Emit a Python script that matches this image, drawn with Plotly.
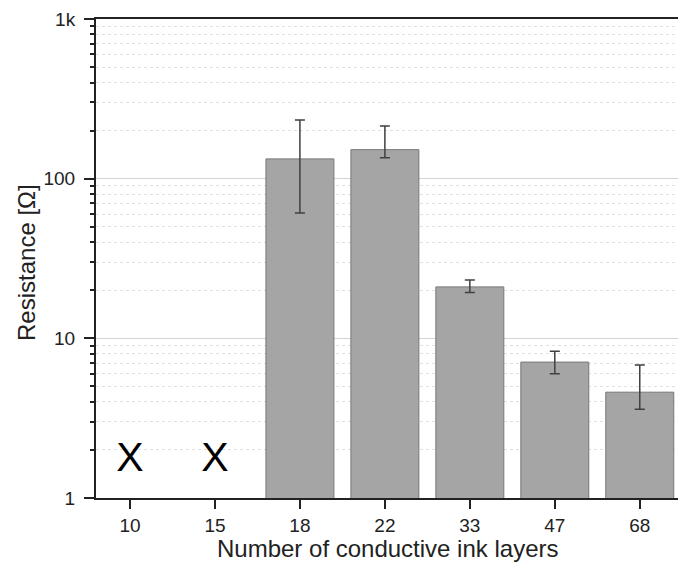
import plotly.graph_objects as go

layers = ["10", "15", "18", "22", "33", "47", "68"]
bar_layers = ["18", "22", "33", "47", "68"]
resistance = [133, 152, 21.0, 7.1, 4.6]
err_plus = [100, 62, 2.2, 1.2, 2.2]
err_minus = [72, 17, 1.6, 1.1, 1.0]
missing_layers = ["10", "15"]
missing_y = [1.72, 1.72]
missing_text = ["X", "X"]
ytick_vals = [1, 10, 100, 1000]
ytick_text = ["1", "10", "100", "1k"]
x_title = "Number of conductive ink layers"
y_title = "Resistance [Ω]"

minor_vals = [m * 10 ** d for d in range(3) for m in range(2, 10)]
FONT = "Liberation Sans, Arial, sans-serif"

fig = go.Figure()
fig.add_trace(go.Bar(
    x=bar_layers, y=resistance, width=0.8,
    marker=dict(color="#a5a5a5", line=dict(color="#777777", width=1)),
    error_y=dict(type="data", symmetric=False, array=err_plus, arrayminus=err_minus,
                 color="#404040", thickness=1.5, width=5),
    showlegend=False,
))
fig.add_trace(go.Scatter(
    x=missing_layers, y=missing_y, mode="text", text=missing_text,
    textfont=dict(size=41, color="black", family=FONT),
    showlegend=False, hoverinfo="skip",
))

fig.update_layout(
    width=678, height=574,
    margin=dict(l=96, r=0, t=19, b=76),
    plot_bgcolor="white", paper_bgcolor="white",
    font=dict(family=FONT, size=19, color="#222"),
    annotations=[
        dict(text=x_title, xref="paper", yref="paper", x=0.5009, y=-0.1044,
             xanchor="center", yanchor="middle", showarrow=False,
             font=dict(size=24, color="#222")),
        dict(text=y_title, xref="paper", yref="paper", x=-0.1186, y=0.4927,
             xanchor="center", yanchor="middle", showarrow=False, textangle=-90,
             font=dict(size=24, color="#222")),
    ],
)
fig.update_xaxes(
    type="category", categoryorder="array", categoryarray=layers,
    range=[-0.4, 6.45], automargin=False,
    showline=True, linecolor="#222", linewidth=2, mirror=True,
    ticks="outside", ticklen=9, tickwidth=1.5, tickcolor="#222",
    tickfont=dict(size=19, color="#222"),
    showgrid=False,
)
fig.update_yaxes(
    type="log", range=[0, 3], automargin=False,
    tickvals=ytick_vals, ticktext=ytick_text,
    showline=True, linecolor="#222", linewidth=2,
    ticks="outside", ticklen=10, tickwidth=1.5, tickcolor="#222",
    ticklabelstandoff=5,
    tickfont=dict(size=19, color="#222"),
    showgrid=True, gridcolor="#d3d3d3", gridwidth=1.2,
    zeroline=False,
    minor=dict(tickvals=minor_vals, ticks="outside", ticklen=4, tickwidth=1.5, tickcolor="#222",
               showgrid=True, gridcolor="#e0e0e0", griddash="dot", gridwidth=1),
)

fig.write_html("out.html", config={"displayModeBar": False},
               post_script="document.body.style.margin='0px';document.body.style.overflow='hidden';")
